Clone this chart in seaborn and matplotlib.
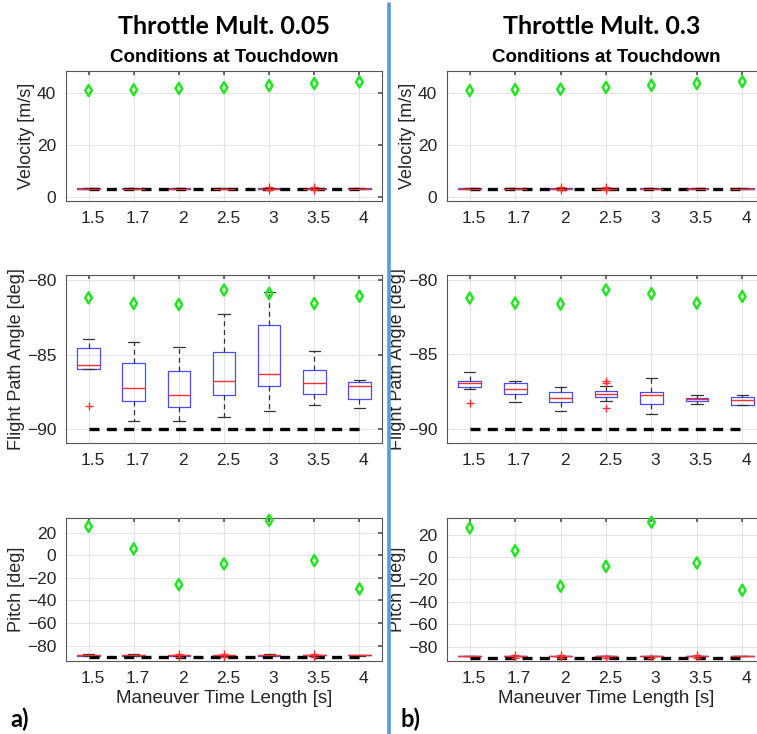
import numpy as np
import pandas as pd
import matplotlib
matplotlib.use("Agg")
import matplotlib.pyplot as plt
from matplotlib.lines import Line2D
from matplotlib.transforms import ScaledTranslation
import seaborn as sns

# maneuver time lengths (x categories)
times = ['1.5', '1.7', '2', '2.5', '3', '3.5', '4']

# green diamonds (reference trajectory values)
vel_ref_a = [41.0, 41.3, 41.8, 42.1, 42.9, 43.7, 44.3]
vel_ref_b = [41.0, 41.3, 41.5, 42.2, 43.0, 43.7, 44.4]
fpa_ref_a = [-81.19, -81.57, -81.64, -80.67, -80.90, -81.57, -81.08]
fpa_ref_b = [-81.22, -81.56, -81.62, -80.67, -80.93, -81.56, -81.11]
pitch_ref_a = [25.4, 5.6, -26.0, -7.7, 30.7, -4.8, -29.7]
pitch_ref_b = [25.9, 5.6, -26.0, -8.3, 31.1, -5.3, -29.6]

# touchdown targets (black dashed lines)
vel_target = 3.0
fpa_target = -90.0
pitch_target = -90.0

# box summaries: [whisker low, q1, median, q3, whisker high]
vel_box_a = [[3.1, 3.2, 3.3, 3.4, 3.5]] * 7
vel_out_a = [[], [], [], [], [2.9, 3.7], [2.9, 3.7], []]
vel_box_b = [[3.1, 3.2, 3.3, 3.4, 3.5]] * 7
vel_out_b = [[], [], [2.9, 3.7], [2.9, 3.7], [], [], []]

fpa_box_a = [[-85.96, -85.96, -85.69, -84.54, -83.98],
             [-89.44, -88.11, -87.26, -85.57, -84.13],
             [-89.44, -88.49, -87.71, -86.07, -84.49],
             [-89.21, -87.69, -86.79, -84.81, -82.25],
             [-88.76, -87.08, -86.29, -82.99, -80.79],
             [-88.38, -87.64, -86.92, -86.02, -84.76],
             [-88.60, -88.00, -87.08, -86.85, -86.70]]
fpa_out_a = [[-88.45], [], [], [], [], [], []]

fpa_box_b = [[-87.33, -87.18, -86.96, -86.76, -86.16],
             [-88.22, -87.64, -87.33, -86.96, -86.82],
             [-88.80, -88.22, -87.93, -87.56, -87.20],
             [-88.11, -87.89, -87.67, -87.49, -87.11],
             [-89.04, -88.31, -87.71, -87.53, -86.56],
             [-88.36, -88.11, -88.02, -87.96, -87.71],
             [-88.38, -88.38, -88.04, -87.89, -87.73]]
fpa_out_b = [[-88.29], [], [], [-86.78, -86.95, -88.60], [], [], []]

pitch_box_a = [[-89.4, -89.1, -88.4, -87.9, -87.6],
               [-89.2, -88.9, -88.4, -87.8, -87.5],
               [-88.8, -88.6, -88.4, -88.2, -88.0],
               [-88.8, -88.6, -88.4, -88.2, -88.0],
               [-89.4, -89.1, -88.5, -87.9, -87.6],
               [-88.7, -88.5, -88.4, -88.3, -88.1],
               [-88.6, -88.5, -88.4, -88.3, -88.2]]
pitch_out_a = [[], [], [-86.8, -90.2], [-86.9, -90.1], [], [-87.0, -89.9], []]

pitch_box_b = [[-88.6, -88.5, -88.3, -88.2, -88.0]] * 7
pitch_out_b = [[], [-87.0, -89.6], [-87.0, -89.6], [-89.6], [-89.6], [-87.0, -89.6], []]

GREEN = '#22e622'
BLUE = '#4b4bff'
RED = '#ff3030'
DARK = '#262626'

W, H = 757, 734
pos = np.arange(len(times))


def rect(x0, y0, x1, y1):
    return [x0 / W, 1 - y1 / H, (x1 - x0) / W, (y1 - y0) / H]


def panel(ax, boxes, outs, refs, target, ylim, yticks, ylabel, xlabel=None):
    df = pd.DataFrame([(p, v) for p, b in zip(pos, boxes) for v in b], columns=['pos', 'val'])
    sns.boxplot(data=df, x='pos', y='val', native_scale=True, orient='x', whis=(0, 100),
                width=0.5, fill=False, color=BLUE, linewidth=0.9, showfliers=False,
                medianprops=dict(color=RED, linewidth=1.0),
                whiskerprops=dict(color='#333333', linestyle=(0, (4, 3)), linewidth=0.9),
                capprops=dict(color='#333333', linewidth=0.9), ax=ax)

    # dashed target line
    sns.lineplot(x=pos, y=np.full(len(pos), target), color='black', linewidth=2.4,
                 linestyle=(0, (3, 2.2)), errorbar=None, ax=ax)

    # outliers as red '+'
    dfo = pd.DataFrame([(p, v) for p, o in zip(pos, outs) for v in o], columns=['pos', 'val'])
    if len(dfo):
        n0 = len(ax.collections)
        sns.stripplot(data=dfo, x='pos', y='val', native_scale=True, orient='x', jitter=False,
                      marker='+', size=6, color=RED, linewidth=1.0, ax=ax)
        for c in ax.collections[n0:]:
            c.set_edgecolor(RED)
            c.set_facecolor(RED)
            c.set_zorder(4)

    # green diamonds
    n0 = len(ax.collections)
    sns.stripplot(x=pos, y=refs, native_scale=True, orient='x', jitter=False, marker='d',
                  size=5.6, color=GREEN, linewidth=1.8, edgecolor=GREEN, ax=ax)
    for c in ax.collections[n0:]:
        c.set_facecolor('none')
        c.set_edgecolor(GREEN)
        c.set_zorder(5)
        c.set_clip_on(False)

    ax.set_xlim(-0.5, 6.5)
    ax.set_xticks(pos)
    ax.set_xticklabels(times)
    ax.set_ylim(*ylim)
    ax.set_yticks(yticks)
    ax.set_ylabel(ylabel, fontsize=13, color=DARK, labelpad=1.5)
    ax.set_xlabel(xlabel if xlabel else '', fontsize=13.5, color=DARK, labelpad=3)
    ax.grid(True, color='#e4e4e4', linewidth=0.8)
    ax.set_axisbelow(True)
    for s in ax.spines.values():
        s.set_color('#555555')
        s.set_linewidth(0.8)
        s.set_visible(True)
    ax.tick_params(direction='in', length=3, color='#555555', labelsize=12.5,
                   labelcolor=DARK, top=True, right=True, pad=7)
    off = ScaledTranslation(0.04, 0, ax.figure.dpi_scale_trans)
    for lab in ax.get_xticklabels():
        lab.set_transform(lab.get_transform() + off)


sns.set_theme(style='white')
plt.rcParams['font.family'] = ['Liberation Sans', 'DejaVu Sans']

fig = plt.figure(figsize=(W / 100, H / 100), dpi=100)
fig.patch.set_facecolor('white')

cols = [(66, 382), (447, 765)]
rows = [(71, 201), (275, 443), (518, 661)]

data = [
    dict(vb=vel_box_a, vo=vel_out_a, vr=vel_ref_a, fb=fpa_box_a, fo=fpa_out_a, fr=fpa_ref_a,
         pb=pitch_box_a, po=pitch_out_a, pr=pitch_ref_a,
         fl=(-90.93, -79.66), pl=(-93.4, 32.8)),
    dict(vb=vel_box_b, vo=vel_out_b, vr=vel_ref_b, fb=fpa_box_b, fo=fpa_out_b, fr=fpa_ref_b,
         pb=pitch_box_b, po=pitch_out_b, pr=pitch_ref_b,
         fl=(-90.96, -79.67), pl=(-92.7, 34.8)),
]

for (x0, x1), d in zip(cols, data):
    ax1 = fig.add_axes(rect(x0, rows[0][0], x1, rows[0][1]))
    panel(ax1, d['vb'], d['vo'], d['vr'], vel_target, (-1.5, 48.5), [0, 20, 40], 'Velocity [m/s]')
    ax2 = fig.add_axes(rect(x0, rows[1][0], x1, rows[1][1]))
    panel(ax2, d['fb'], d['fo'], d['fr'], fpa_target, d['fl'], [-90, -85, -80],
          'Flight Path Angle [deg]')
    ax3 = fig.add_axes(rect(x0, rows[2][0], x1, rows[2][1]))
    panel(ax3, d['pb'], d['po'], d['pr'], pitch_target, d['pl'], [-80, -60, -40, -20, 0, 20],
          'Pitch [deg]', xlabel='Maneuver Time Length [s]')

# headings
fig.text(224 / W, 1 - 27 / H, 'Throttle Mult. 0.05', ha='center', va='center',
         fontsize=18, fontweight='bold', family=['Lato', 'DejaVu Sans'], color='black')
fig.text(602 / W, 1 - 27 / H, 'Throttle Mult. 0.3', ha='center', va='center',
         fontsize=18, fontweight='bold', family=['Lato', 'DejaVu Sans'], color='black')
fig.text(224 / W, 1 - 57 / H, 'Conditions at Touchdown', ha='center', va='center',
         fontsize=13.5, fontweight='bold', color='black')
fig.text(606 / W, 1 - 57 / H, 'Conditions at Touchdown', ha='center', va='center',
         fontsize=13.5, fontweight='bold', color='black')
fig.text(10 / W, 1 - 719 / H, 'a)', ha='left', va='center', fontsize=17,
         fontweight='bold', family=['Lato', 'DejaVu Sans'], color='black')
fig.text(401 / W, 1 - 719 / H, 'b)', ha='left', va='center', fontsize=17,
         fontweight='bold', family=['Lato', 'DejaVu Sans'], color='black')

# blue divider between the two columns
fig.add_artist(Line2D([389 / W, 389 / W], [0, 1 - 4 / H], transform=fig.transFigure,
                      color='#5b9bd5', linewidth=2.6))

fig.savefig('out.png', dpi=100, facecolor='white')
